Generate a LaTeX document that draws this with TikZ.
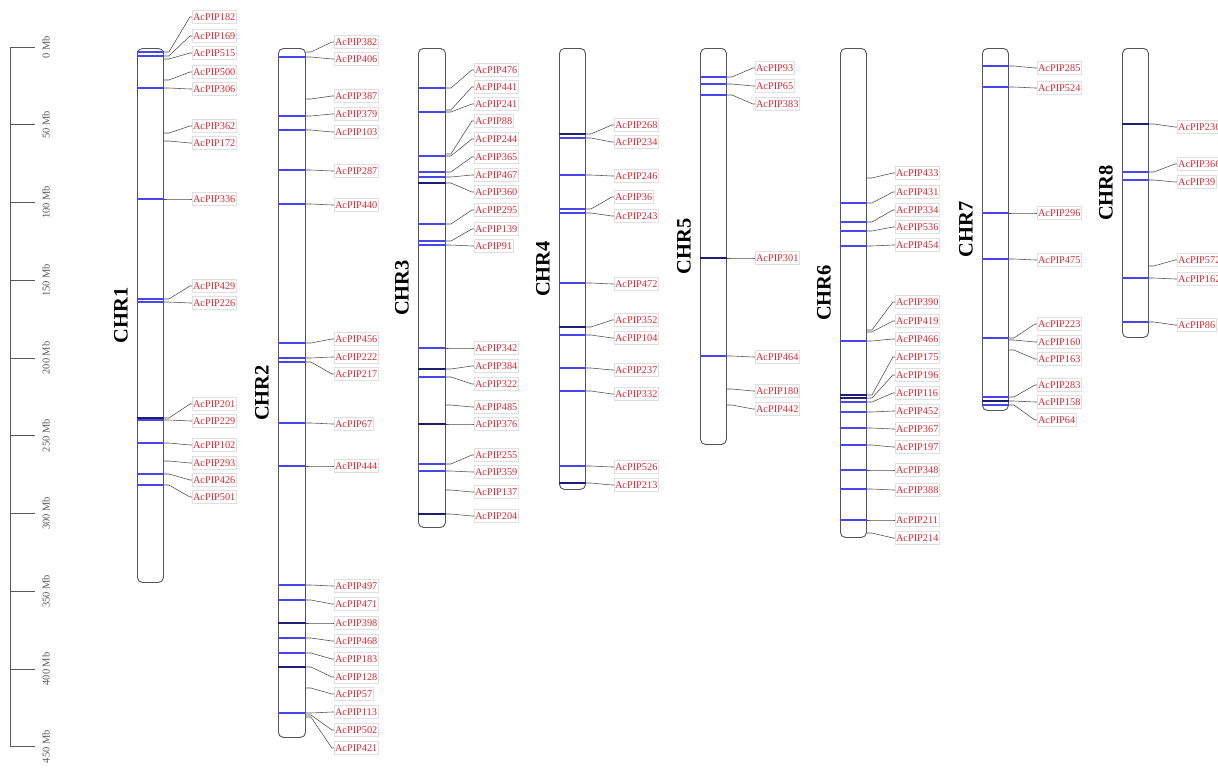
\documentclass[tikz,border=0pt]{standalone}
\usepackage{fontspec}
\setmainfont{Liberation Serif}

\definecolor{labred}{RGB}{210,40,50}
\definecolor{bandblue}{RGB}{70,70,235}
\definecolor{bandnavy}{RGB}{30,30,115}
\definecolor{outline}{RGB}{85,85,85}

\begin{document}
\begin{tikzpicture}[x=1pt, y=-1pt,
    chrom/.style={draw=outline, fill=white, line width=0.9pt, rounded corners=5pt, anchor=north west, inner sep=0pt, minimum width=26pt},
    chrname/.style={rotate=90, anchor=south, inner sep=0pt, font=\bfseries\fontsize{20.5}{20.5}\selectfont},
    lab/.style={anchor=west, draw=gray!25, line width=0.3pt, text=labred, font=\fontsize{10.3}{10.3}\selectfont, inner sep=1pt, minimum height=13pt},
    conn/.style={draw=gray!60!black, line width=0.55pt},
    band/.style={draw=bandblue, line width=1.3pt},
    darkband/.style={draw=bandnavy, line width=1.7pt},
    noband/.style={draw=none},
    ruler/.style={draw=gray!70!black, line width=0.9pt}]
  \useasboundingbox (0,0) rectangle (1218,771);

  % ruler in Mb
  \foreach \i in {0,...,9} {
    \pgfmathsetmacro\ty{47+77.75*\i}
    \pgfmathtruncatemacro\mb{50*\i}
    \coordinate (k\i) at (10,\ty);
    \draw[ruler] (k\i) -- ++(25,0);
    \node[rotate=90, inner sep=0pt, text=gray!70!black, font=\fontsize{10.5}{10.5}\selectfont] (s\i) at (46,\ty) {\mb\ Mb};
  }
  \draw[ruler] (k0) -- (k9);

  % chromosomes
  \node[chrom, minimum height=534pt] (chr1) at (137,48) {};
  \node[chrom, minimum height=689pt, minimum width=27pt] (chr2) at (278,48) {};
  \node[chrom, minimum height=479pt, minimum width=27pt] (chr3) at (418,48) {};
  \node[chrom, minimum height=441pt] (chr4) at (559,48) {};
  \node[chrom, minimum height=396pt] (chr5) at (700,48) {};
  \node[chrom, minimum height=489pt] (chr6) at (840,48) {};
  \node[chrom, minimum height=362pt] (chr7) at (982,48) {};
  \node[chrom, minimum height=289pt] (chr8) at (1122,48) {};

  \node[chrname] (n1) at ([xshift=-9pt]chr1.west) {CHR1};
  \node[chrname] (n2) at ([xshift=-9pt]chr2.west) {CHR2};
  \node[chrname] (n3) at ([xshift=-9pt]chr3.west) {CHR3};
  \node[chrname] (n4) at ([xshift=-9pt]chr4.west) {CHR4};
  \node[chrname] (n5) at ([xshift=-9pt]chr5.west) {CHR5};
  \node[chrname] (n6) at ([xshift=-9pt]chr6.west) {CHR6};
  \node[chrname] (n7) at ([xshift=-9pt]chr7.west) {CHR7};
  \node[chrname] (n8) at ([xshift=-9pt]chr8.west) {CHR8};

  % gene/marker/label/band
  \foreach \pip/\my/\ly/\bs in {182/52/17/band, 169/56/36/band, 515/59/53/noband, 500/80/72/noband, 306/88/89/band, 362/133/126/noband, 172/141/143/noband, 336/199/199/band, 429/299/286/band, 226/302/303/band, 201/418/404/darkband, 229/420/421/band, 102/443/445/band, 293/461/463/noband, 426/474/480/band, 501/485/497/band} {
    \draw[\bs] (chr1.west |- 0,\my) -- (chr1.east |- 0,\my);
    \coordinate (c1m\pip) at (chr1.east |- 0,\my);
    \node[lab] (c1l\pip) at ([xshift=28pt]chr1.east |- 0,\ly) {AcPIP\pip};
    \draw[conn] (c1m\pip) -- ++(5,0) -- ([xshift=-2pt]c1l\pip.west) -- (c1l\pip.west);
  }
  \foreach \pip/\my/\ly/\bs in {382/52/42/noband, 406/57/59/band, 387/99/96/noband, 379/116/114/band, 103/130/132/band, 287/170/171/band, 440/204/205/band, 456/343/339/band, 222/358/357/band, 217/362/374/band, 67/423/424/band, 444/466/466/band, 497/585/586/band, 471/600/604/band, 398/623/623/darkband, 468/638/641/band, 183/653/659/band, 128/667/677/darkband, 57/688/694/noband, 113/713/712/band, 502/715/730/noband, 421/717/748/noband} {
    \draw[\bs] (chr2.west |- 0,\my) -- (chr2.east |- 0,\my);
    \coordinate (c2m\pip) at (chr2.east |- 0,\my);
    \node[lab] (c2l\pip) at ([xshift=28pt]chr2.east |- 0,\ly) {AcPIP\pip};
    \draw[conn] (c2m\pip) -- ++(5,0) -- ([xshift=-2pt]c2l\pip.west) -- (c2l\pip.west);
  }
  \foreach \pip/\my/\ly/\bs in {476/88/70/band, 441/110/87/noband, 241/112/104/band, 88/154/121/noband, 244/156/139/band, 365/172/157/band, 467/177/175/band, 360/183/192/darkband, 295/224/210/band, 139/241/229/band, 91/245/246/band, 342/348/348/band, 384/369/366/darkband, 322/377/384/band, 485/405/407/noband, 376/424/424/darkband, 255/464/455/band, 359/471/472/band, 137/490/492/noband, 204/514/516/darkband} {
    \draw[\bs] (chr3.west |- 0,\my) -- (chr3.east |- 0,\my);
    \coordinate (c3m\pip) at (chr3.east |- 0,\my);
    \node[lab] (c3l\pip) at ([xshift=28pt]chr3.east |- 0,\ly) {AcPIP\pip};
    \draw[conn] (c3m\pip) -- ++(5,0) -- ([xshift=-2pt]c3l\pip.west) -- (c3l\pip.west);
  }
  \foreach \pip/\my/\ly/\bs in {268/134/125/darkband, 234/138/142/band, 246/175/176/band, 36/209/197/band, 243/213/216/band, 472/283/284/band, 352/327/320/darkband, 104/335/338/band, 237/368/370/band, 332/391/394/band, 526/466/467/band, 213/483/485/darkband} {
    \draw[\bs] (chr4.west |- 0,\my) -- (chr4.east |- 0,\my);
    \coordinate (c4m\pip) at (chr4.east |- 0,\my);
    \node[lab] (c4l\pip) at ([xshift=28pt]chr4.east |- 0,\ly) {AcPIP\pip};
    \draw[conn] (c4m\pip) -- ++(5,0) -- ([xshift=-2pt]c4l\pip.west) -- (c4l\pip.west);
  }
  \foreach \pip/\my/\ly/\bs in {93/77/68/band, 65/84/86/band, 383/95/104/band, 301/258/258/darkband, 464/356/357/band, 180/389/391/noband, 442/405/409/noband} {
    \draw[\bs] (chr5.west |- 0,\my) -- (chr5.east |- 0,\my);
    \coordinate (c5m\pip) at (chr5.east |- 0,\my);
    \node[lab] (c5l\pip) at ([xshift=28pt]chr5.east |- 0,\ly) {AcPIP\pip};
    \draw[conn] (c5m\pip) -- ++(5,0) -- ([xshift=-2pt]c5l\pip.west) -- (c5l\pip.west);
  }
  \foreach \pip/\my/\ly/\bs in {433/178/173/noband, 431/203/192/band, 334/222/210/band, 536/231/227/band, 454/246/245/band, 390/330/302/noband, 419/332/321/noband, 466/341/339/band, 175/395/357/darkband, 196/398/375/darkband, 116/402/393/band, 452/412/411/band, 367/428/429/band, 197/445/447/band, 348/470/470/band, 388/489/490/band, 211/520/520/band, 214/533/538/noband} {
    \draw[\bs] (chr6.west |- 0,\my) -- (chr6.east |- 0,\my);
    \coordinate (c6m\pip) at (chr6.east |- 0,\my);
    \node[lab] (c6l\pip) at ([xshift=28pt]chr6.east |- 0,\ly) {AcPIP\pip};
    \draw[conn] (c6m\pip) -- ++(5,0) -- ([xshift=-2pt]c6l\pip.west) -- (c6l\pip.west);
  }
  \foreach \pip/\my/\ly/\bs in {285/66/68/band, 524/87/88/band, 296/213/213/band, 475/259/260/band, 223/338/324/band, 160/340/342/noband, 163/350/359/noband, 283/397/385/band, 158/401/402/darkband, 64/405/420/band} {
    \draw[\bs] (chr7.west |- 0,\my) -- (chr7.east |- 0,\my);
    \coordinate (c7m\pip) at (chr7.east |- 0,\my);
    \node[lab] (c7l\pip) at ([xshift=28pt]chr7.east |- 0,\ly) {AcPIP\pip};
    \draw[conn] (c7m\pip) -- ++(5,0) -- ([xshift=-2pt]c7l\pip.west) -- (c7l\pip.west);
  }
  \foreach \pip/\my/\ly/\bs in {236/124/127/darkband, 366/172/164/band, 39/180/182/band, 572/266/260/noband, 162/278/279/band, 86/322/325/band} {
    \draw[\bs] (chr8.west |- 0,\my) -- (chr8.east |- 0,\my);
    \coordinate (c8m\pip) at (chr8.east |- 0,\my);
    \node[lab] (c8l\pip) at ([xshift=28pt]chr8.east |- 0,\ly) {AcPIP\pip};
    \draw[conn] (c8m\pip) -- ++(5,0) -- ([xshift=-2pt]c8l\pip.west) -- (c8l\pip.west);
  }
\end{tikzpicture}
\end{document}
